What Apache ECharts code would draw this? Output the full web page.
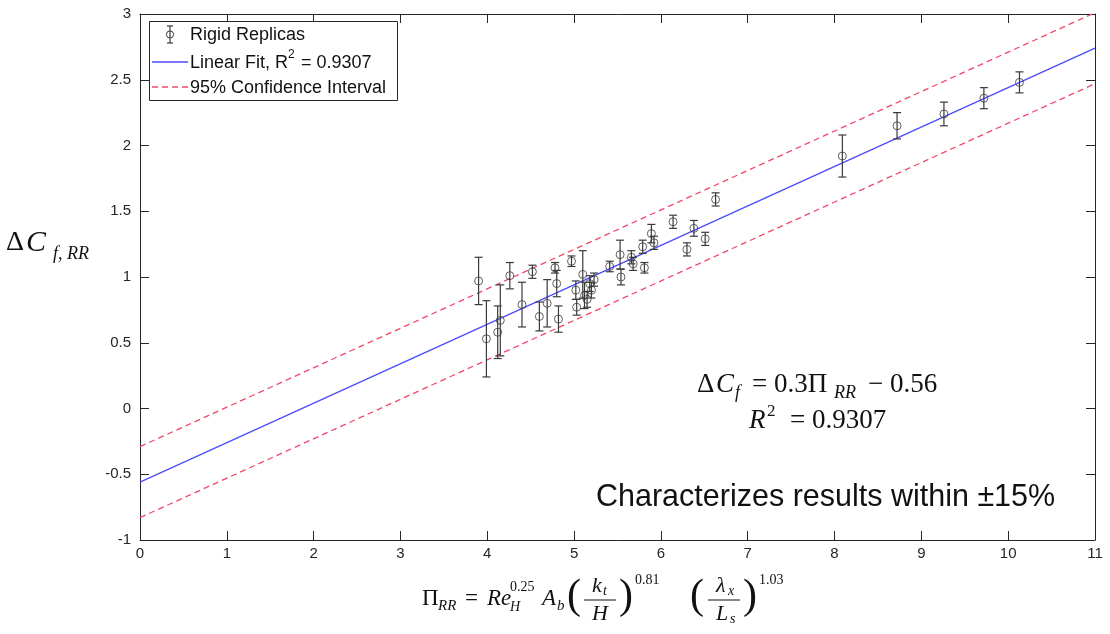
<!DOCTYPE html>
<html>
<head>
<meta charset="utf-8">
<title>Rigid replicas: ΔCf vs Π_RR</title>
<script src="https://cdn.jsdelivr.net/npm/echarts@6/dist/echarts.min.js"></script>
<style>
  html, body { margin: 0; padding: 0; background: #ffffff; }
  #chart { width: 1110px; height: 634px; }
</style>
</head>
<body>
<div id="chart"></div>
<script>
// Measured replicas: Π_RR (x), ΔCf,RR (y) and the half-height of each error bar
const piRR = [3.90, 3.99, 4.12, 4.15, 4.26, 4.40, 4.52, 4.60, 4.69, 4.78,
              4.80, 4.82, 4.97, 5.02, 5.03, 5.10, 5.12, 5.15, 5.18, 5.20,
              5.23, 5.41, 5.53, 5.54, 5.66, 5.68, 5.79, 5.81, 5.89, 5.92,
              6.14, 6.30, 6.38, 6.51, 6.63, 8.09, 8.72, 9.26, 9.72, 10.13];
const deltaCf = [0.97, 0.53, 0.58, 0.67, 1.01, 0.79, 1.04, 0.70, 0.80, 1.07,
                 0.95, 0.68, 1.12, 0.90, 0.77, 1.02, 0.86, 0.83, 0.95, 0.90,
                 0.98, 1.08, 1.17, 1.00, 1.15, 1.10, 1.23, 1.07, 1.33, 1.26,
                 1.42, 1.21, 1.37, 1.29, 1.59, 1.92, 2.15, 2.24, 2.36, 2.48];
const errHalf = [0.18, 0.29, 0.20, 0.27, 0.10, 0.17, 0.05, 0.11, 0.18, 0.04,
                 0.10, 0.10, 0.04, 0.07, 0.06, 0.18, 0.10, 0.06, 0.06, 0.06,
                 0.05, 0.04, 0.11, 0.06, 0.05, 0.05, 0.05, 0.04, 0.07, 0.05,
                 0.05, 0.05, 0.06, 0.05, 0.05, 0.16, 0.10, 0.09, 0.08, 0.08];

// Linear fit ΔCf = 0.3 Π_RR − 0.56 and its 95% band, as end points
const fitLine = [[0, -0.56], [11, 2.74]];
const ciUpper = [[0, -0.29], [11, 3.01]];
const ciLower = [[0, -0.83], [11, 2.47]];

// Axis ranges and tick steps
const xRange = [0, 11], xStep = 1;
const yRange = [-1, 3], yStep = 0.5;

const points = piRR.map((x, i) => [x, deltaCf[i], errHalf[i]]);

const INK = '#262626';
const BLUE = '#4a4aff';
const RED = '#f2476a';
const SANS = '"Liberation Sans", Arial, sans-serif';
const SERIF = '"Liberation Serif", "Times New Roman", serif';

const chart = echarts.init(document.getElementById('chart'), null, { renderer: 'canvas' });

function axisX(pos, labels) {
  return {
    type: 'value', position: pos, min: xRange[0], max: xRange[1], interval: xStep,
    axisLine: { show: true, onZero: false, lineStyle: { color: INK, width: 1 } },
    axisTick: { show: true, inside: true, length: 9, lineStyle: { color: INK } },
    axisLabel: { show: labels, color: INK, fontSize: 15, fontFamily: SANS, margin: 6 },
    splitLine: { show: false }
  };
}
function axisY(pos, labels) {
  return {
    type: 'value', position: pos, min: yRange[0], max: yRange[1], interval: yStep,
    axisLine: { show: true, onZero: false, lineStyle: { color: INK, width: 1 } },
    axisTick: { show: true, inside: true, length: 9, lineStyle: { color: INK } },
    axisLabel: { show: labels, color: INK, fontSize: 15, fontFamily: SANS, margin: 9 },
    splitLine: { show: false }
  };
}

// Error bars with end caps
function renderErrorBar(params, api) {
  const x = api.value(0), y = api.value(1), e = api.value(2);
  const top = api.coord([x, y + e]);
  const bot = api.coord([x, y - e]);
  const hw = 4;
  const st = { stroke: '#3a3a3a', lineWidth: 1.2 };
  return {
    type: 'group',
    children: [
      { type: 'line', shape: { x1: top[0], y1: top[1], x2: bot[0], y2: bot[1] }, style: st },
      { type: 'line', shape: { x1: top[0] - hw, y1: top[1], x2: top[0] + hw, y2: top[1] }, style: st },
      { type: 'line', shape: { x1: bot[0] - hw, y1: bot[1], x2: bot[0] + hw, y2: bot[1] }, style: st }
    ]
  };
}

// Small helpers for placed text pieces and rules
function txt(text, x, y, font, align) {
  return {
    type: 'text', z: 100,
    style: { text: text, x: x, y: y, font: font, fill: '#111', textAlign: align || 'left', textVerticalAlign: 'middle' }
  };
}
function hline(x1, x2, y, color, dash, w) {
  return {
    type: 'line', z: 100,
    shape: { x1: x1, y1: y, x2: x2, y2: y },
    style: { stroke: color, lineWidth: w || 1, lineDash: dash || null }
  };
}

const it = (s) => 'italic ' + s + 'px ' + SERIF;
const up = (s) => s + 'px ' + SERIF;
const sans = (s) => s + 'px ' + SANS;

// Legend box
const legend = [
  { type: 'rect', z: 99, shape: { x: 149.5, y: 21.5, width: 248, height: 79 },
    style: { fill: '#fff', stroke: INK, lineWidth: 1 } },
  { type: 'line', z: 100, shape: { x1: 170, y1: 26, x2: 170, y2: 43 }, style: { stroke: '#3a3a3a', lineWidth: 1.2 } },
  { type: 'line', z: 100, shape: { x1: 167, y1: 26, x2: 173, y2: 26 }, style: { stroke: '#3a3a3a', lineWidth: 1.2 } },
  { type: 'line', z: 100, shape: { x1: 167, y1: 43, x2: 173, y2: 43 }, style: { stroke: '#3a3a3a', lineWidth: 1.2 } },
  { type: 'circle', z: 101, shape: { cx: 170, cy: 34.5, r: 3.6 }, style: { fill: 'none', stroke: '#3a3a3a', lineWidth: 1 } },
  txt('Rigid Replicas', 190, 35, sans(18)),
  hline(152, 188, 62, BLUE, null, 1.3),
  txt('Linear Fit, R', 190, 63, sans(18)),
  txt('2', 288, 55, sans(12)),
  txt('= 0.9307', 301, 63, sans(18)),
  hline(152, 188, 87, RED, [6, 4], 1.3),
  txt('95% Confidence Interval', 190, 88, sans(18))
];

// y axis title: ΔC_{f,RR}
const yTitle = [
  txt('Δ', 6, 243, up(28)),
  txt('C', 26, 243, it(30)),
  txt('f, RR', 53, 254, it(18))
];

// x axis title: Π_RR = Re_H^0.25 A_b (k_t/H)^0.81 (λ_x/L_s)^1.03
const xt = 599;
const xTitle = [
  txt('Π', 422, xt, up(23)),
  txt('RR', 438, xt + 7, it(15)),
  txt('=', 465, xt, up(23)),
  txt('Re', 487, xt, it(23)),
  txt('0.25', 510, xt - 12, up(14)),
  txt('H', 510, xt + 8, it(14)),
  txt('A', 542, xt, it(23)),
  txt('b', 557, xt + 7, it(15)),
  txt('(', 567, xt - 2, up(42)),
  txt('k', 592, xt - 13, it(22)),
  txt('t', 603, xt - 8, it(14)),
  hline(584, 616, xt + 1, '#111', null, 1),
  txt('H', 600, xt + 15, it(22), 'center'),
  txt(')', 619, xt - 2, up(42)),
  txt('0.81', 635, xt - 19, up(14)),
  txt('(', 690, xt - 2, up(42)),
  txt('λ', 716, xt - 13, it(22)),
  txt('x', 728, xt - 8, it(14)),
  hline(708, 740, xt + 1, '#111', null, 1),
  txt('L', 722, xt + 15, it(22), 'center'),
  txt('s', 730, xt + 20, it(14)),
  txt(')', 743, xt - 2, up(42)),
  txt('1.03', 759, xt - 19, up(14))
];

// Fit equation and note inside the plot
const eqFont = 27;
const notes = [
  txt('Δ', 697, 385, up(eqFont)),
  txt('C', 716, 385, it(eqFont)),
  txt('f', 735, 393, it(18)),
  txt('= 0.3Π', 752, 385, up(eqFont)),
  txt('RR', 834, 393, it(18)),
  txt('− 0.56', 868, 385, up(eqFont)),
  txt('R', 749, 421, it(eqFont)),
  txt('2', 767, 412, up(17)),
  txt('= 0.9307', 790, 421, up(eqFont)),
  txt('Characterizes results within ±15%', 596, 498, sans(30.5))
];

const option = {
  backgroundColor: '#ffffff',
  animation: false,
  grid: { left: 140, right: 15, top: 14, bottom: 94, containLabel: false },
  xAxis: [axisX('bottom', true), axisX('top', false)],
  yAxis: [axisY('left', true), axisY('right', false)],
  series: [
    {
      name: '95% Confidence Interval', type: 'line', data: ciUpper, showSymbol: false, symbol: 'none',
      lineStyle: { color: RED, width: 1.3, type: [6, 4] }, clip: true, silent: true, z: 2
    },
    {
      name: '95% Confidence Interval', type: 'line', data: ciLower, showSymbol: false, symbol: 'none',
      lineStyle: { color: RED, width: 1.3, type: [6, 4] }, clip: true, silent: true, z: 2
    },
    {
      name: 'Linear Fit', type: 'line', data: fitLine, showSymbol: false, symbol: 'none',
      lineStyle: { color: BLUE, width: 1.3 }, clip: true, silent: true, z: 3
    },
    {
      name: 'Rigid Replicas', type: 'custom', data: points, renderItem: renderErrorBar,
      encode: { x: 0, y: 1 }, z: 4, silent: true
    },
    {
      name: 'Rigid Replicas', type: 'scatter', data: points, symbol: 'circle', symbolSize: 8,
      encode: { x: 0, y: 1 },
      itemStyle: { color: 'rgba(0,0,0,0)', borderColor: '#3a3a3a', borderWidth: 1 }, z: 5, silent: true
    }
  ],
  graphic: [].concat(legend, yTitle, xTitle, notes)
};

chart.setOption(option);
</script>
</body>
</html>
